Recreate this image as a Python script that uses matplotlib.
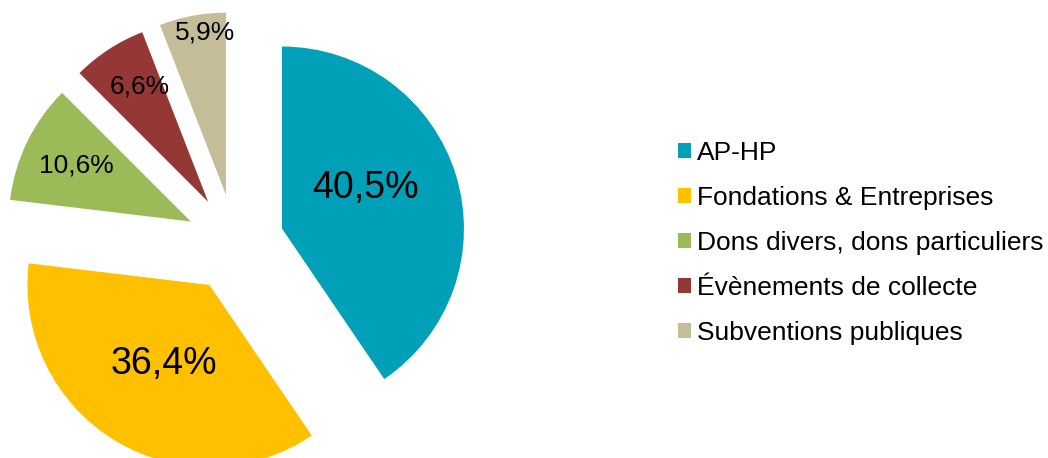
import numpy as np
import matplotlib
matplotlib.use("Agg")
import matplotlib.pyplot as plt

# ── données ──────────────────────────────────────────────
labels = ["AP-HP", "Fondations & Entreprises", "Dons divers, dons particuliers",
          "Évènements de collecte", "Subventions publiques"]
values = [40.5, 36.4, 10.6, 6.6, 5.9]
pct_text = ["40,5%", "36,4%", "10,6%", "6,6%", "5,9%"]

colors = ["#00A0B8", "#FFC000", "#9BBB59", "#953735", "#C4BD97"]
# position des étiquettes : distance (fraction du rayon) + décalage angulaire
label_dist = [0.51, 0.50, 0.70, 0.74, 0.90]
label_shift = [9, 1, 0, -2.4, -3.3]
label_size = [27, 27, 19, 19, 19]

plt.rcParams['font.family'] = ['Liberation Sans', 'DejaVu Sans']

fig = plt.figure(figsize=(10.48, 4.58), dpi=100)
ax = fig.add_axes([0, 0, 1, 1])

R = 182
CENTER = (235, 215)
EXPL = 0.27 * R   # explode est en unités de données, pas en fraction du rayon

wedges, _ = ax.pie(values, colors=colors, startangle=90, counterclock=False,
                   radius=R, center=CENTER, explode=[EXPL] * len(values),
                   wedgeprops=dict(linewidth=0))

# pie() pose ses propres limites : on les remet en pixels
ax.set_xlim(0, 1048)
ax.set_ylim(0, 458)
ax.set_aspect('equal')
ax.axis('off')

for w, txt, d, sh, fs in zip(wedges, pct_text, label_dist, label_shift, label_size):
    mid = np.deg2rad((w.theta1 + w.theta2) / 2 + sh)
    cx, cy = w.center
    ax.text(cx + d * R * np.cos(mid), cy + d * R * np.sin(mid), txt,
            ha='center', va='center', fontsize=fs, color='black')

ax.legend(wedges, labels, loc='upper left', bbox_to_anchor=(667 / 1048, 1 - 130 / 458),
          frameon=False, fontsize=19, handlelength=0.5, handleheight=0.5,
          handletextpad=0.22, labelspacing=0.8, borderaxespad=0)

plt.savefig("out.png", dpi=100, facecolor='white')
plt.close()
